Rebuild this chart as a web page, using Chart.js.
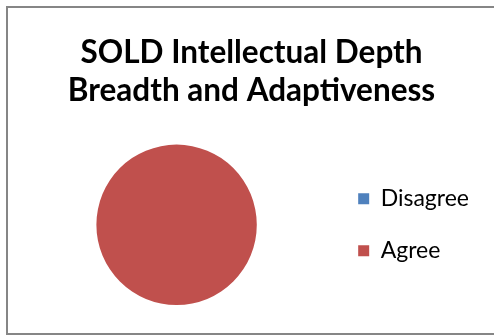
<!DOCTYPE html>
<html>
<head>
<meta charset="utf-8">
<script src="https://cdn.jsdelivr.net/npm/chart.js@4"></script>
<style>
    html, body { margin: 0; padding: 0; background: #fff; }
    body { width: 494px; height: 335px; overflow: hidden; position: relative; }
    .frame {
        position: absolute; left: 6px; top: 6px;
        width: 500px; height: 325px;
        border-left: 2px solid #868686;
        border-top: 2px solid #868686;
        border-bottom: 2px solid #868686;
    }
    .chart-box { position: absolute; left: 8px; top: 8px; width: 486px; height: 325px; }
</style>
</head>
<body>
<div class="frame"></div>
<div class="chart-box"><canvas id="pie"></canvas></div>
<script>
// Survey answers
const titleLines = ['SOLD Intellectual Depth', 'Breadth and Adaptiveness'];
const categories = ['Disagree', 'Agree'];
const responses = [0, 100];
const sliceColors = ['#4F81BD', '#C0504D'];

new Chart(document.getElementById('pie'), {
    type: 'pie',
    data: {
        labels: categories,
        datasets: [{
            data: responses,
            backgroundColor: sliceColors,
            borderWidth: 0
        }]
    },
    options: {
        responsive: true,
        maintainAspectRatio: false,
        animation: false,
        layout: { padding: { left: 16, right: 15, top: 0, bottom: 28 } },
        plugins: {
            title: {
                display: true,
                text: titleLines,
                color: '#000',
                font: { family: 'Lato', size: 31.5, weight: 'bold', lineHeight: 1.2 },
                padding: { top: 26, bottom: 35 }
            },
            legend: {
                position: 'right',
                fullSize: false,
                labels: {
                    color: '#000',
                    font: { family: 'Lato', size: 23 },
                    boxWidth: 11,
                    boxHeight: 11,
                    padding: 29
                }
            },
            tooltip: { enabled: false }
        }
    }
});
</script>
</body>
</html>
